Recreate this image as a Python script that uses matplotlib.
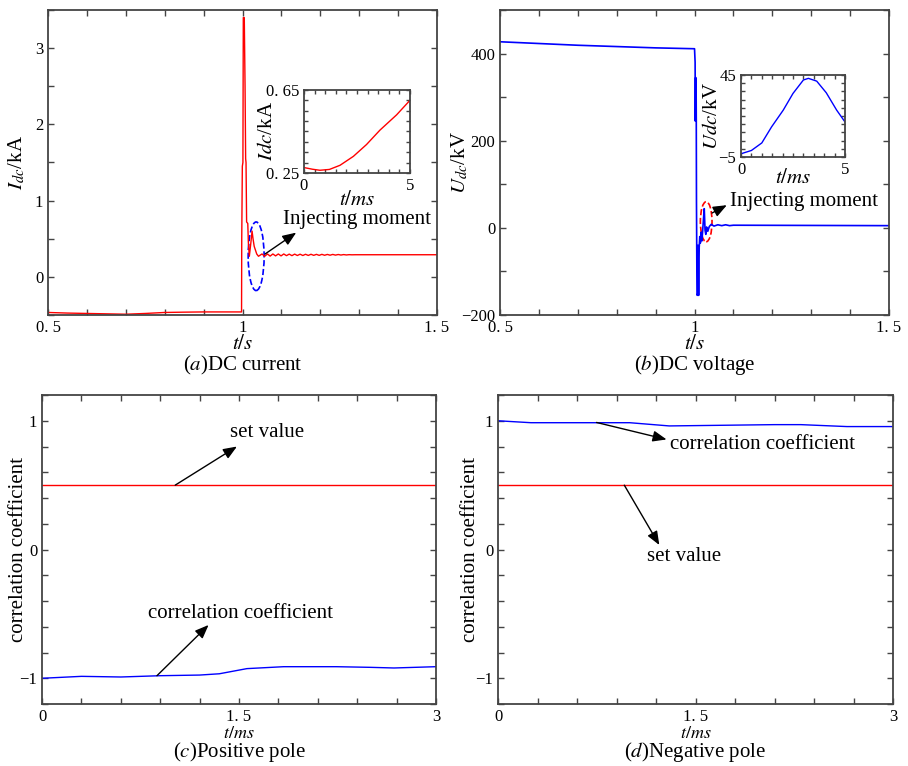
import numpy as np
import matplotlib
matplotlib.use('Agg')
import matplotlib.pyplot as plt
from matplotlib.patches import Ellipse

plt.rcParams['font.family'] = ['Liberation Serif', 'DejaVu Serif']
plt.rcParams['mathtext.fontset'] = 'stix'

# ---- (a) DC current, kA ----
pre_t_a = [0.5, 0.55, 0.6, 0.65, 0.7, 0.75, 0.8, 0.85, 0.9, 0.95]
pre_i_a = [-0.467, -0.475, -0.48, -0.485, -0.49, -0.48, -0.467, -0.463, -0.46, -0.46]
spike_t_a = [0.9975, 0.998, 0.9995, 1.001, 1.002, 1.0045, 1.0065, 1.008, 1.009, 1.0105,
             1.0135, 1.015, 1.0175, 1.0215, 1.0245, 1.027, 1.030, 1.0365, 1.041]
spike_i_a = [-0.46, 0.5, 1.45, 1.5, 3.4, 3.4, 2.5, 1.55, 1.5, 0.72,
             0.7, 0.45, 0.27, 0.45, 0.6, 0.5, 0.4, 0.3, 0.27]
ripple_t_a = [1.050, 1.057, 1.064, 1.071, 1.078, 1.085, 1.092, 1.099, 1.106, 1.113,
              1.120, 1.127, 1.134, 1.141, 1.148, 1.155, 1.162, 1.169, 1.176, 1.183,
              1.190, 1.197, 1.204, 1.211, 1.218, 1.225, 1.232, 1.239, 1.246, 1.253,
              1.260, 1.267, 1.274, 1.281, 1.29, 1.5]
ripple_i_a = [0.30, 0.27, 0.30, 0.272, 0.30, 0.275, 0.30, 0.275, 0.30, 0.278,
              0.298, 0.278, 0.298, 0.28, 0.297, 0.28, 0.296, 0.281, 0.296, 0.282,
              0.295, 0.282, 0.295, 0.283, 0.294, 0.284, 0.294, 0.285, 0.293, 0.286,
              0.292, 0.287, 0.291, 0.289, 0.29, 0.29]

# inset (a): 0-5 ms after injection
t_in_a = [0, 0.4, 0.75, 1.2, 1.7, 2.33, 2.95, 3.58, 4.37, 5.0]
i_in_a = [0.276, 0.268, 0.263, 0.267, 0.287, 0.33, 0.387, 0.456, 0.53, 0.60]

# ---- (b) DC voltage, kV ----
pre_t_b = [0.5, 0.6, 0.7, 0.8, 0.9, 0.95, 1.0]
pre_u_b = [427, 423, 419, 416, 413, 412, 411]
fault_t_b = [1.0015, 1.002, 1.003, 1.0035, 1.004, 1.0045, 1.005, 1.006, 1.007, 1.008,
             1.009, 1.0105, 1.012, 1.0135, 1.015, 1.017, 1.019, 1.021, 1.023, 1.025,
             1.027, 1.029, 1.031, 1.034, 1.038, 1.043, 1.05, 1.06, 1.07, 1.08,
             1.09, 1.1, 1.5]
fault_u_b = [380, 245, 345, 250, 340, 245, 60, -100, -155, -150,
             -40, -155, -45, -20, -35, -10, -30, -5, 20, 44,
             -5, -15, 2, -8, 3, 8, 4, 7, 5, 7,
             5, 6, 5]

t_in_b = [0, 0.5, 1.0, 1.47, 2.03, 2.5, 3.0, 3.24, 3.64, 4.1, 4.6, 5.0]
u_in_b = [-3, -1, 3.6, 13.4, 23.6, 33.8, 42, 43, 41.3, 34.2, 23.6, 16.4]

# ---- (c),(d) correlation coefficient ----
set_t = [0, 3]
set_value = [0.5, 0.5]
t_c = [0, 0.3, 0.6, 0.9, 1.2, 1.35, 1.56, 1.84, 2.24, 2.5, 2.68, 3.0]
r_c = [-1.0, -0.985, -0.99, -0.98, -0.975, -0.965, -0.925, -0.91, -0.91, -0.915, -0.92, -0.91]
t_d = [0, 0.25, 1.0, 1.3, 1.7, 2.1, 2.3, 2.65, 3.0]
r_d = [1.0, 0.985, 0.985, 0.96, 0.965, 0.97, 0.97, 0.955, 0.955]

RED = '#ff0000'
BLUE = '#0000ff'
TXT = 15
TICK = 12
FRAME = '#444444'

fig = plt.figure(figsize=(9.08, 7.66), dpi=100)


def style(ax, lw=1.3):
    for s in ax.spines.values():
        s.set_linewidth(lw)
        s.set_color(FRAME)
    ax.tick_params(which='both', direction='in', top=True, right=True,
                   length=4, width=1, labelsize=TICK, color=FRAME)


def arrow(ax, start, tip):
    ax.annotate('', xy=tip, xytext=start,
                arrowprops=dict(arrowstyle='-|>,head_length=0.55,head_width=0.22',
                                color='k', lw=1, mutation_scale=15,
                                shrinkA=0, shrinkB=0))


# (a)
ax = fig.add_axes([0.0529, 0.5888, 0.4284, 0.3982])
ax.plot(pre_t_a + spike_t_a + ripple_t_a, pre_i_a + spike_i_a + ripple_i_a, color=RED, lw=1)
ax.set_xlim(0.5, 1.5)
ax.set_ylim(-0.5, 3.5)
ax.set_xticks([0.5, 1, 1.5], ['0. 5', '1', '1. 5'])
ax.set_xticks(np.arange(0.5, 1.51, 0.1), minor=True)
ax.set_yticks([0, 1, 2, 3], ['0', '1', '2', '3'])
ax.set_yticks(np.arange(-0.5, 3.51, 0.5), minor=True)
style(ax)
ax.set_ylabel('$I_{dc}$/kA', fontsize=TXT)
ax.yaxis.set_label_coords(-0.054, 0.5)
ax.text(0.5, -0.097, '$t/s$', transform=ax.transAxes, ha='center', va='center', fontsize=TXT)
ax.text(0.5, -0.165, '($a$)DC current', transform=ax.transAxes, ha='center', va='center', fontsize=TXT)
ax.add_patch(Ellipse((1.035, 0.27), 0.041, 0.9, fill=False, ec=BLUE, ls='--', lw=1.2))
arrow(ax, (1.058, 0.30), (1.138, 0.58))
ax.text(1.103, 0.75, 'Injecting moment', fontsize=TXT, va='center', ha='left')

ins = fig.add_axes([0.3348, 0.7742, 0.1167, 0.1084])
ins.plot(t_in_a, i_in_a, color=RED, lw=1)
ins.set_xlim(0, 5)
ins.set_ylim(0.25, 0.65)
ins.set_xticks([0, 5], ['0', '5'])
ins.set_xticks(np.arange(0, 5.01, 0.5), minor=True)
ins.set_yticks([0.25, 0.65], ['0. 25', '0. 65'])
ins.set_yticks(np.arange(0.25, 0.651, 0.05), minor=True)
style(ins)
ins.tick_params(which='both', length=3, labelsize=12)
ins.set_ylabel('$Idc$/kA', fontsize=TXT)
ins.yaxis.set_label_coords(-0.255, 0.5)
ins.text(0.5, -0.33, '$t/ms$', transform=ins.transAxes, ha='center', va='center', fontsize=TXT)

# (b)
ax = fig.add_axes([0.5507, 0.5888, 0.4284, 0.3982])
ax.plot(pre_t_b + fault_t_b, pre_u_b + fault_u_b, color=BLUE, lw=1.2)
ax.set_xlim(0.5, 1.5)
ax.set_ylim(-200, 500)
ax.set_xticks([0.5, 1, 1.5], ['0. 5', '1', '1. 5'])
ax.set_xticks(np.arange(0.5, 1.51, 0.1), minor=True)
ax.set_yticks([-200, 0, 200, 400], ['\u2212200', '0', '200', '400'])
ax.set_yticks(np.arange(-200, 501, 100), minor=True)
style(ax)
ax.set_ylabel('$U_{dc}$/kV', fontsize=TXT)
ax.yaxis.set_label_coords(-0.077, 0.5)
ax.text(0.5, -0.097, '$t/s$', transform=ax.transAxes, ha='center', va='center', fontsize=TXT)
ax.text(0.5, -0.165, '($b$)DC voltage', transform=ax.transAxes, ha='center', va='center', fontsize=TXT)
ax.add_patch(Ellipse((1.030, 14), 0.03, 92, fill=False, ec=RED, ls='--', lw=1.2))
arrow(ax, (1.045, 34), (1.083, 52))
ax.text(1.09, 60, 'Injecting moment', fontsize=TXT, va='center', ha='left')

ins = fig.add_axes([0.8161, 0.795, 0.1145, 0.107])
ins.plot(t_in_b, u_in_b, color=BLUE, lw=1)
ins.set_xlim(0, 5)
ins.set_ylim(-5, 45)
ins.set_xticks([0, 5], ['0', '5'])
ins.set_xticks(np.arange(0, 5.01, 0.5), minor=True)
ins.set_yticks([-5, 45], ['\u22125', '45'])
ins.set_yticks(np.arange(-5, 45.1, 5), minor=True)
style(ins)
ins.tick_params(which='both', length=3, labelsize=12)
ins.set_ylabel('$Udc$/kV', fontsize=TXT)
ins.yaxis.set_label_coords(-0.18, 0.5)
ins.text(0.5, -0.26, '$t/ms$', transform=ins.transAxes, ha='center', va='center', fontsize=TXT)

# (c)
ax = fig.add_axes([0.0463, 0.0809, 0.4339, 0.4034])
ax.plot(set_t, set_value, color=RED, lw=1)
ax.plot(t_c, r_c, color=BLUE, lw=1)
ax.set_xlim(0, 3)
ax.set_ylim(-1.2, 1.2)
ax.set_xticks([0, 1.5, 3], ['0', '1. 5', '3'])
ax.set_xticks(np.arange(0, 3.01, 0.3), minor=True)
ax.set_yticks([-1, 0, 1], ['\u22121', '0', '1'])
ax.set_yticks(np.arange(-1.2, 1.21, 0.2), minor=True)
style(ax)
ax.set_ylabel('correlation coefficient', fontsize=TXT)
ax.yaxis.set_label_coords(-0.036, 0.5)
ax.text(0.5, -0.094, '$t/ms$', transform=ax.transAxes, ha='center', va='center', fontsize=13)
ax.text(0.5, -0.155, '($c$)Positive pole', transform=ax.transAxes, ha='center', va='center', fontsize=TXT)
arrow(ax, (1.014, 0.5), (1.484, 0.80))
ax.text(1.71, 0.91, 'set value', fontsize=TXT, ha='center', va='center')
arrow(ax, (0.875, -0.98), (1.268, -0.586))
ax.text(1.514, -0.495, 'correlation coefficient', fontsize=TXT, ha='center', va='center')

# (d)
ax = fig.add_axes([0.5485, 0.0809, 0.435, 0.4034])
ax.plot(set_t, set_value, color=RED, lw=1)
ax.plot(t_d, r_d, color=BLUE, lw=1)
ax.set_xlim(0, 3)
ax.set_ylim(-1.2, 1.2)
ax.set_xticks([0, 1.5, 3], ['0', '1. 5', '3'])
ax.set_xticks(np.arange(0, 3.01, 0.3), minor=True)
ax.set_yticks([-1, 0, 1], ['\u22121', '0', '1'])
ax.set_yticks(np.arange(-1.2, 1.21, 0.2), minor=True)
style(ax)
ax.set_ylabel('correlation coefficient', fontsize=TXT)
ax.yaxis.set_label_coords(-0.046, 0.5)
ax.text(0.5, -0.094, '$t/ms$', transform=ax.transAxes, ha='center', va='center', fontsize=13)
ax.text(0.5, -0.155, '($d$)Negative pole', transform=ax.transAxes, ha='center', va='center', fontsize=TXT)
arrow(ax, (0.748, 0.987), (1.28, 0.855))
ax.text(1.306, 0.816, 'correlation coefficient', fontsize=TXT, ha='left', va='center')
arrow(ax, (0.959, 0.5), (1.225, 0.035))
ax.text(1.41, -0.056, 'set value', fontsize=TXT, ha='center', va='center')

fig.savefig('out.png', dpi=100)
